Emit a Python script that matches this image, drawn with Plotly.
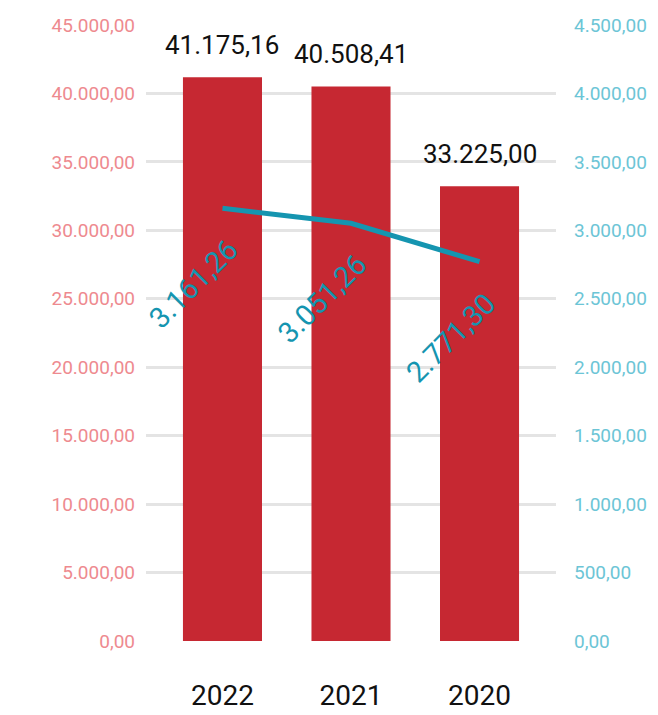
import plotly.graph_objects as go

years = ["2022", "2021", "2020"]
totals = [41175.16, 40508.41, 33225.00]
averages = [3161.26, 3051.26, 2771.30]

left_ticks = [i * 5000 for i in range(10)]
right_ticks = [i * 500 for i in range(10)]

FONT = "Roboto, sans-serif"
BAR_RED = "#c62832"
LINE_TEAL = "#1595b0"


def fmt(v):
    s = f"{v:,.2f}"
    return s.replace(",", "X").replace(".", ",").replace("X", ".")


fig = go.Figure()

fig.add_trace(go.Bar(
    x=years, y=totals,
    marker=dict(color=BAR_RED, line=dict(width=0)),
    width=0.615,
    yaxis="y",
    showlegend=False,
))

fig.add_trace(go.Scatter(
    x=years, y=averages,
    mode="lines",
    line=dict(color=LINE_TEAL, width=5),
    yaxis="y2",
    showlegend=False,
))

# value labels above the bars (category axis positions are indices)
for i, v in enumerate(totals):
    fig.add_annotation(
        x=i, y=v, xref="x", yref="y",
        text=fmt(v), showarrow=False,
        yanchor="bottom", yshift=15,
        font=dict(family=FONT, size=26, color="#111111"),
    )

# rotated value labels under the line
for i, v in enumerate(averages):
    fig.add_annotation(
        x=i, y=v, xref="x", yref="y2",
        text=fmt(v), showarrow=False, textangle=-45,
        xshift=-29, yshift=-76,
        font=dict(family=FONT, size=29, color=LINE_TEAL),
    )

fig.update_layout(
    width=658, height=715,
    margin=dict(l=146, r=102, t=25, b=74, autoexpand=False),
    plot_bgcolor="white", paper_bgcolor="white",
    xaxis=dict(
        type="category", categoryorder="array", categoryarray=years,
        range=[-0.595, 2.595], showgrid=False, zeroline=False, showline=False,
        ticks="", tickfont=dict(family=FONT, size=28, color="#111111"),
        ticklabelstandoff=35, automargin=False,
    ),
    yaxis=dict(
        range=[0, 45000], tickvals=left_ticks,
        ticktext=[fmt(v) for v in left_ticks],
        showgrid=True, gridcolor="#e4e4e4", gridwidth=3,
        zeroline=False, showline=False, ticks="",
        tickfont=dict(family=FONT, size=19, color="#ee8a8f"),
        ticklabelstandoff=10, automargin=False,
    ),
    yaxis2=dict(
        range=[0, 4500], tickvals=right_ticks,
        ticktext=[fmt(v) for v in right_ticks],
        overlaying="y", side="right", showgrid=False, zeroline=False,
        showline=False, ticks="",
        tickfont=dict(family=FONT, size=19, color="#6cc5d6"),
        ticklabelstandoff=17, automargin=False,
    ),
)

fig.write_html("out.html")
